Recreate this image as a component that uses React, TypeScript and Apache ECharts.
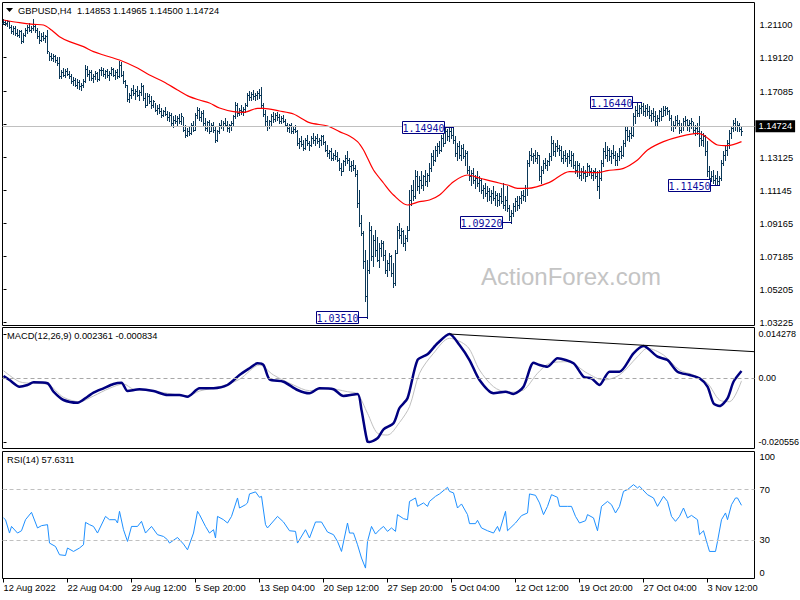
import React, { useEffect, useRef } from 'react';
import * as echarts from 'echarts';

// ---------- data ----------
const symbolName = 'GBPUSD,H4';
const firstOpen = 1.212;

const highs = [
  1.2144,1.2140,1.2136,1.2132,1.2110,1.2100,1.2105,1.2085,1.2080,1.2078,
  1.2060,1.2090,1.2110,1.2120,1.2100,1.2144,1.2108,1.2090,1.2070,1.2060,
  1.2066,1.2050,1.2078,1.1946,1.1940,1.1935,1.1930,1.1915,1.1916,1.1840,
  1.1850,1.1845,1.1850,1.1830,1.1815,1.1796,1.1790,1.1785,1.1780,1.1760,
  1.1785,1.1868,1.1860,1.1838,1.1835,1.1815,1.1830,1.1825,1.1845,1.1856,
  1.1850,1.1840,1.1845,1.1830,1.1855,1.1850,1.1835,1.1845,1.1892,1.1886,
  1.1830,1.1780,1.1750,1.1700,1.1730,1.1748,1.1725,1.1740,1.1720,1.1760,
  1.1750,1.1700,1.1700,1.1695,1.1680,1.1660,1.1640,1.1625,1.1635,1.1610,
  1.1600,1.1615,1.1590,1.1586,1.1580,1.1560,1.1570,1.1560,1.1575,1.1580,
  1.1556,1.1510,1.1490,1.1500,1.1520,1.1530,1.1580,1.1616,1.1610,1.1590,
  1.1600,1.1550,1.1535,1.1540,1.1520,1.1526,1.1500,1.1480,1.1520,1.1540,
  1.1530,1.1550,1.1530,1.1515,1.1530,1.1570,1.1646,1.1640,1.1610,1.1625,
  1.1615,1.1640,1.1700,1.1710,1.1705,1.1718,1.1700,1.1712,1.1725,1.1736,
  1.1640,1.1600,1.1560,1.1540,1.1575,1.1586,1.1580,1.1586,1.1575,1.1560,
  1.1570,1.1545,1.1520,1.1515,1.1520,1.1500,1.1510,1.1480,1.1430,1.1440,
  1.1420,1.1430,1.1445,1.1415,1.1440,1.1460,1.1440,1.1455,1.1430,1.1450,
  1.1445,1.1410,1.1385,1.1360,1.1370,1.1340,1.1358,1.1345,1.1310,1.1280,
  1.1300,1.1330,1.1350,1.1310,1.1290,1.1298,1.1270,1.1238,1.1118,1.0970,
  1.0870,1.0760,1.0700,1.0926,1.0900,1.0850,1.0880,1.0836,1.0800,1.0820,
  1.0810,1.0760,1.0700,1.0740,1.0730,1.0680,1.0758,1.0900,1.0920,1.0890,
  1.0880,1.0850,1.0900,1.1118,1.1150,1.1180,1.1238,1.1230,1.1200,1.1230,
  1.1210,1.1240,1.1220,1.1280,1.1340,1.1360,1.1380,1.1400,1.1410,1.1450,
  1.1470,1.1490,1.1485,1.1490,1.1488,1.1494,1.1440,1.1400,1.1410,1.1390,
  1.1395,1.1360,1.1350,1.1260,1.1240,1.1250,1.1210,1.1230,1.1200,1.1190,
  1.1150,1.1160,1.1140,1.1130,1.1120,1.1140,1.1110,1.1100,1.1100,1.1130,
  1.1160,1.1080,1.1140,1.1030,1.1000,1.1040,1.1070,1.1080,1.1080,1.1110,
  1.1120,1.1150,1.1300,1.1350,1.1370,1.1340,1.1360,1.1345,1.1330,1.1260,
  1.1300,1.1310,1.1300,1.1340,1.1440,1.1420,1.1400,1.1420,1.1390,1.1380,
  1.1350,1.1360,1.1340,1.1358,1.1350,1.1340,1.1290,1.1290,1.1280,1.1250,
  1.1260,1.1240,1.1280,1.1270,1.1250,1.1240,1.1250,1.1230,1.1238,1.1300,
  1.1370,1.1406,1.1380,1.1370,1.1360,1.1388,1.1350,1.1340,1.1370,1.1380,
  1.1420,1.1496,1.1500,1.1480,1.1500,1.1580,1.1620,1.1640,1.1630,1.1644,
  1.1640,1.1630,1.1636,1.1620,1.1600,1.1610,1.1590,1.1570,1.1600,1.1610,
  1.1620,1.1622,1.1615,1.1600,1.1570,1.1530,1.1560,1.1568,1.1540,1.1520,
  1.1550,1.1560,1.1545,1.1540,1.1550,1.1526,1.1510,1.1520,1.1560,1.1470,
  1.1460,1.1450,1.1410,1.1260,1.1230,1.1238,1.1210,1.1230,1.1200,1.1300,
  1.1350,1.1380,1.1420,1.1478,1.1500,1.1540,1.1550,1.1530,1.1520,1.14965,
];

const lows = [
  1.2114,1.2110,1.2102,1.2090,1.2060,1.2055,1.2050,1.2040,1.2035,1.2000,
  1.2005,1.2040,1.2060,1.2070,1.2066,1.2075,1.2066,1.2030,1.2000,1.2010,
  1.2020,1.2006,1.1940,1.1900,1.1895,1.1890,1.1886,1.1870,1.1790,1.1790,
  1.1800,1.1795,1.1805,1.1790,1.1760,1.1745,1.1740,1.1730,1.1725,1.1718,
  1.1735,1.1765,1.1800,1.1780,1.1775,1.1766,1.1785,1.1770,1.1780,1.1810,
  1.1800,1.1790,1.1795,1.1778,1.1805,1.1800,1.1785,1.1790,1.1795,1.1800,
  1.1760,1.1736,1.1650,1.1646,1.1670,1.1690,1.1665,1.1680,1.1658,1.1690,
  1.1660,1.1616,1.1625,1.1640,1.1610,1.1615,1.1590,1.1575,1.1580,1.1556,
  1.1560,1.1565,1.1540,1.1530,1.1510,1.1496,1.1520,1.1505,1.1520,1.1515,
  1.1470,1.1436,1.1440,1.1450,1.1455,1.1470,1.1480,1.1550,1.1540,1.1530,
  1.1508,1.1480,1.1470,1.1460,1.1470,1.1465,1.1406,1.1410,1.1460,1.1490,
  1.1480,1.1500,1.1470,1.1466,1.1480,1.1510,1.1550,1.1560,1.1568,1.1575,
  1.1570,1.1585,1.1620,1.1660,1.1658,1.1665,1.1660,1.1665,1.1670,1.1610,
  1.1560,1.1510,1.1478,1.1490,1.1510,1.1525,1.1530,1.1540,1.1520,1.1520,
  1.1525,1.1500,1.1470,1.1465,1.1460,1.1460,1.1465,1.1390,1.1370,1.1380,
  1.1358,1.1365,1.1390,1.1360,1.1380,1.1400,1.1385,1.1400,1.1376,1.1390,
  1.1395,1.1350,1.1320,1.1310,1.1298,1.1300,1.1305,1.1290,1.1240,1.1208,
  1.1230,1.1270,1.1280,1.1240,1.1230,1.1240,1.1200,1.1016,1.0900,1.0848,
  1.0650,1.0450,1.0351,1.0620,1.0700,1.0660,1.0720,1.0690,1.0656,1.0720,
  1.0700,1.0620,1.0600,1.0640,1.0600,1.0536,1.0550,1.0740,1.0830,1.0800,
  1.0780,1.0758,1.0810,1.0878,1.1030,1.1060,1.1070,1.1120,1.1100,1.1130,
  1.1120,1.1150,1.1140,1.1170,1.1230,1.1270,1.1290,1.1320,1.1340,1.1350,
  1.1380,1.1400,1.1420,1.1410,1.1430,1.1400,1.1320,1.1300,1.1310,1.1300,
  1.1310,1.1270,1.1220,1.1180,1.1150,1.1160,1.1130,1.1140,1.1110,1.1100,
  1.1070,1.1080,1.1050,1.1060,1.1040,1.1060,1.1030,1.1020,1.1030,1.1040,
  1.1010,1.1000,1.0990,1.0940,1.0922,1.0960,1.0990,1.1000,1.1010,1.1040,
  1.1060,1.1050,1.1090,1.1260,1.1300,1.1280,1.1290,1.1280,1.1180,1.1160,
  1.1220,1.1250,1.1240,1.1270,1.1300,1.1330,1.1320,1.1350,1.1330,1.1290,
  1.1280,1.1290,1.1260,1.1280,1.1260,1.1250,1.1220,1.1200,1.1190,1.1180,
  1.1190,1.1170,1.1200,1.1210,1.1190,1.1180,1.1190,1.1120,1.1070,1.1180,
  1.1260,1.1310,1.1290,1.1300,1.1280,1.1310,1.1270,1.1268,1.1300,1.1310,
  1.1320,1.1380,1.1420,1.1410,1.1430,1.1440,1.1520,1.1560,1.1560,1.1580,
  1.1570,1.1560,1.1570,1.1550,1.1530,1.1540,1.1510,1.1500,1.1530,1.1540,
  1.1560,1.1570,1.1575,1.1540,1.1480,1.1470,1.1490,1.1500,1.1460,1.1465,
  1.1480,1.1500,1.1480,1.1470,1.1490,1.1460,1.1450,1.1455,1.1380,1.1390,
  1.1380,1.1330,1.1200,1.1160,1.1170,1.1160,1.1150,1.1150,1.1145,1.1180,
  1.1270,1.1300,1.1330,1.1370,1.1430,1.1470,1.1480,1.1470,1.1470,1.14500,
];

const closes = [
  1.2125,1.2118,1.2130,1.2095,1.2070,1.2088,1.2060,1.2050,1.2070,1.2010,
  1.2050,1.2080,1.2095,1.2080,1.2090,1.2100,1.2080,1.2040,1.2020,1.2045,
  1.2030,1.2040,1.1950,1.1920,1.1910,1.1925,1.1895,1.1880,1.1800,1.1825,
  1.1810,1.1830,1.1815,1.1800,1.1770,1.1780,1.1750,1.1765,1.1740,1.1750,
  1.1770,1.1845,1.1815,1.1825,1.1790,1.1800,1.1820,1.1785,1.1835,1.1840,
  1.1815,1.1830,1.1805,1.1820,1.1845,1.1810,1.1825,1.1800,1.1870,1.1810,
  1.1770,1.1745,1.1665,1.1690,1.1720,1.1700,1.1715,1.1690,1.1705,1.1740,
  1.1670,1.1630,1.1680,1.1655,1.1625,1.1650,1.1600,1.1610,1.1590,1.1570,
  1.1590,1.1575,1.1555,1.1570,1.1520,1.1540,1.1530,1.1550,1.1535,1.1560,
  1.1480,1.1450,1.1470,1.1460,1.1510,1.1480,1.1570,1.1600,1.1555,1.1580,
  1.1520,1.1490,1.1525,1.1475,1.1510,1.1480,1.1420,1.1470,1.1510,1.1500,
  1.1520,1.1510,1.1490,1.1505,1.1520,1.1560,1.1630,1.1580,1.1600,1.1590,
  1.1605,1.1625,1.1690,1.1675,1.1695,1.1680,1.1690,1.1700,1.1690,1.1625,
  1.1575,1.1530,1.1500,1.1530,1.1560,1.1545,1.1570,1.1555,1.1535,1.1550,
  1.1530,1.1510,1.1490,1.1505,1.1475,1.1485,1.1475,1.1400,1.1410,1.1395,
  1.1370,1.1420,1.1400,1.1390,1.1430,1.1420,1.1430,1.1410,1.1420,1.1440,
  1.1405,1.1360,1.1340,1.1350,1.1310,1.1330,1.1320,1.1300,1.1250,1.1230,
  1.1290,1.1310,1.1300,1.1260,1.1270,1.1250,1.1215,1.1040,1.0920,1.0860,
  1.0690,1.0480,1.0640,1.0880,1.0720,1.0820,1.0760,1.0700,1.0770,1.0800,
  1.0730,1.0640,1.0680,1.0720,1.0620,1.0560,1.0740,1.0880,1.0850,1.0870,
  1.0800,1.0830,1.0880,1.1060,1.1120,1.1080,1.1200,1.1140,1.1180,1.1150,
  1.1200,1.1170,1.1210,1.1250,1.1320,1.1300,1.1360,1.1380,1.1360,1.1430,
  1.1400,1.1470,1.1440,1.1470,1.1450,1.1420,1.1340,1.1380,1.1330,1.1370,
  1.1320,1.1340,1.1240,1.1200,1.1220,1.1180,1.1190,1.1160,1.1180,1.1120,
  1.1130,1.1100,1.1110,1.1080,1.1100,1.1070,1.1090,1.1060,1.1080,1.1050,
  1.1030,1.1060,1.1010,1.0960,1.0980,1.1020,1.1050,1.1030,1.1070,1.1090,
  1.1080,1.1130,1.1280,1.1330,1.1320,1.1330,1.1310,1.1330,1.1200,1.1240,
  1.1280,1.1270,1.1290,1.1320,1.1400,1.1350,1.1380,1.1370,1.1360,1.1310,
  1.1330,1.1310,1.1320,1.1300,1.1330,1.1270,1.1240,1.1270,1.1210,1.1230,
  1.1220,1.1200,1.1260,1.1230,1.1210,1.1230,1.1200,1.1140,1.1190,1.1280,
  1.1350,1.1330,1.1360,1.1320,1.1340,1.1330,1.1300,1.1320,1.1350,1.1330,
  1.1400,1.1480,1.1440,1.1460,1.1450,1.1560,1.1600,1.1580,1.1610,1.1620,
  1.1590,1.1610,1.1590,1.1570,1.1580,1.1560,1.1530,1.1550,1.1590,1.1560,
  1.1600,1.1610,1.1590,1.1550,1.1500,1.1510,1.1540,1.1520,1.1480,1.1500,
  1.1530,1.1540,1.1510,1.1520,1.1530,1.1480,1.1490,1.1470,1.1430,1.1420,
  1.1440,1.1350,1.1230,1.1190,1.1200,1.1180,1.1190,1.1170,1.1190,1.1280,
  1.1330,1.1360,1.1400,1.1460,1.1490,1.1520,1.1500,1.1510,1.14853,1.14724,
];

// moving average (red), [bar index, price]
const maPts = [
  [0,1.2138],[8,1.2122],[15,1.2112],[20,1.2108],[24,1.2078],[28,1.2038],[33,1.2008],[40,1.1978],
  [45,1.1948],[50,1.1928],[58,1.1898],[67,1.1850],[73,1.1808],[80,1.1768],[87,1.1718],[93,1.1678],
  [98,1.1658],[103,1.1640],[108,1.1610],[115,1.1588],[120,1.1584],[127,1.1608],[130,1.1608],
  [138,1.1592],[145,1.1574],[153,1.1522],[162,1.1502],[168,1.1468],[173,1.1442],[177,1.1408],
  [180,1.1358],[182,1.1310],[185,1.1238],[190,1.1160],[195,1.1088],[202,1.1028],[208,1.1048],
  [213,1.1058],[218,1.1088],[225,1.1168],[232,1.1208],[238,1.1190],[245,1.1168],[252,1.1148],
  [257,1.1128],[262,1.1128],[273,1.1164],[283,1.1228],[297,1.1222],[302,1.1234],[310,1.1248],
  [317,1.1298],[322,1.1358],[330,1.1408],[338,1.1438],[347,1.1458],[350,1.1448],[357,1.1388],
  [362,1.1384],[369,1.1408],
];

// MACD main line (navy), [bar index, value]
const macdPts = [
  [0,0.00074],[3,-0.00055],[8,-0.00271],[12,-0.00216],[15,-0.00129],[22,-0.00161],[25,-0.00432],
  [30,-0.007],[37,-0.00787],[42,-0.00593],[45,-0.00464],[50,-0.00323],[55,-0.00184],[59,-0.00142],
  [62,-0.0041],[68,-0.00355],[75,-0.0041],[82,-0.00539],[88,-0.00539],[92,-0.00593],[98,-0.00323],
  [105,-0.00323],[112,-0.00216],[118,0.00106],[123,0.00323],[127,0.00484],[130,0.00429],
  [133,-0.00032],[140,-0.0011],[147,-0.00377],[153,-0.00484],[158,-0.00323],[165,-0.00355],
  [170,-0.00571],[177,-0.00506],[179,-0.01022],[182,-0.02045],[183,-0.020556],[187,-0.01935],
  [190,-0.01645],[195,-0.01451],[198,-0.00958],[202,-0.00645],[207,0.0059],[212,0.00774],
  [217,0.01129],[223,0.014278],[228,0.01074],[233,0.0059],[238,-0.00055],[245,-0.00484],
  [251,-0.00432],[255,-0.00506],[260,-0.00271],[265,0.00503],[268,0.00429],[272,0.00374],
  [277,0.00645],[285,0.00484],[290,0.00052],[294,0],[298,-0.00216],[303,0.00213],[308,0.00213],
  [315,0.00806],[320,0.01042],[327,0.00697],[332,0.0059],[337,0.00213],[343,0.00106],[348,0],
  [352,-0.00271],[355,-0.00806],[358,-0.00893],[362,-0.00645],[365,-0.0011],[369,0.002361],
];

// MACD signal line (silver)
const signalPts = [
  [0,0.00245],[8,-0.0011],[15,-0.00161],[22,-0.00194],[30,-0.00613],[38,-0.00755],[45,-0.00571],
  [53,-0.00323],[60,-0.00184],[65,-0.00355],[73,-0.004],[82,-0.00484],[92,-0.00571],[98,-0.0041],
  [108,-0.00271],[118,-0.00032],[128,0.00429],[135,0.00106],[145,-0.00216],[153,-0.004],
  [162,-0.00323],[172,-0.00432],[177,-0.00506],[182,-0.01129],[187,-0.01774],[192,-0.01829],
  [198,-0.01425],[203,-0.00916],[208,0.00161],[215,0.00806],[223,0.0129],[232,0.01019],
  [238,0.00268],[245,-0.00271],[252,-0.00452],[260,-0.00377],[267,0.00161],[273,0.00484],
  [282,0.00535],[292,0.00161],[300,-0.00055],[308,0.00106],[317,0.00697],[322,0.00968],
  [330,0.00751],[338,0.00268],[345,0.00106],[352,-0.00161],[358,-0.007],[363,-0.00755],
  [369,-0.000834],
];

const trendFrom = [223, 0.014278];
const trendTo = [375.5, 0.00858];

// RSI(14), [bar index, value]
const rsiPts = [
  [0,47.7],[1,46.3],[3,35.8],[4,41.0],[7,35.8],[9,37.6],[11,46.3],[14,52.1],[17,39.8],[19,41.6],
  [22,42.4],[23,27.9],[26,25.2],[28,18.7],[31,18.1],[32,24.0],[35,21.3],[38,24.0],[40,26.6],
  [41,44.2],[43,42.4],[45,41.0],[47,35.8],[51,48.9],[53,46.3],[56,46.3],[57,43.7],[58,52.9],
  [60,38.4],[62,29.2],[64,41.0],[67,41.0],[69,45.0],[71,35.8],[74,41.0],[77,34.5],[80,33.1],
  [82,30.5],[83,27.9],[87,32.3],[90,27.1],[92,22.6],[95,35.8],[97,52.9],[98,50.3],[101,41.0],
  [103,35.8],[105,38.4],[106,31.9],[107,48.9],[110,46.3],[112,43.7],[114,48.9],[117,63.4],
  [118,55.5],[121,58.1],[122,59.5],[123,66.6],[126,68.2],[128,63.9],[129,64.7],[131,42.4],
  [132,39.8],[137,48.9],[140,44.5],[143,37.6],[146,37.1],[147,27.9],[151,38.4],[153,31.9],
  [156,44.5],[159,44.5],[162,36.6],[165,34.5],[167,29.2],[169,21.3],[172,43.7],[173,35.8],
  [175,35.8],[177,26.6],[179,16.1],[181,8.2],[182,29.2],[184,41.0],[186,35.0],[188,38.4],
  [190,41.0],[192,37.1],[194,39.8],[196,37.1],[197,50.3],[200,47.1],[202,46.3],[203,60.7],
  [206,63.4],[207,56.8],[210,59.5],[212,56.8],[213,60.7],[216,64.7],[218,66.6],[222,71.8],
  [223,68.6],[225,67.4],[227,55.5],[229,58.7],[232,50.3],[233,43.2],[236,43.2],[237,45.8],
  [239,39.8],[242,37.6],[245,35.8],[247,41.0],[248,37.1],[251,52.9],[252,37.6],[256,43.7],
  [259,49.5],[262,51.6],[263,66.6],[266,65.5],[268,59.5],[270,50.3],[272,56.8],[274,66.0],
  [277,63.9],[278,56.8],[282,56.8],[284,56.8],[286,48.9],[288,43.7],[291,45.5],[292,50.3],
  [295,47.7],[297,37.6],[299,56.8],[302,60.7],[304,58.1],[306,51.6],[308,56.8],[310,68.6],
  [312,70.0],[315,73.9],[317,71.3],[318,72.6],[322,66.0],[325,63.4],[327,56.8],[330,64.7],
  [332,60.7],[334,48.9],[336,45.0],[338,48.9],[340,55.5],[342,47.7],[344,49.7],[347,46.3],
  [348,34.5],[350,37.6],[352,26.6],[353,21.3],[356,21.3],[357,29.2],[359,46.3],[361,51.6],
  [362,46.3],[364,58.1],[366,63.4],[367,63.4],[369,57.6311],
];

const priceTicks = [1.211, 1.1912, 1.17085, 1.15105, 1.13125, 1.11145, 1.09165, 1.07185, 1.05205, 1.03225];
const macdTicks = [0.014278, 0, -0.020556];
const rsiTicks = [100, 70, 30, 0];
const rsiLevels = [70, 30];
const timeIdx = [0, 32, 64, 96, 128, 160, 192, 224, 256, 288, 320, 352];
const timeLabels = [
  '12 Aug 2022', '22 Aug 04:00', '29 Aug 12:00', '5 Sep 20:00', '13 Sep 04:00', '20 Sep 12:00',
  '27 Sep 20:00', '5 Oct 04:00', '12 Oct 12:00', '19 Oct 20:00', '27 Oct 04:00', '3 Nov 12:00',
];
const annIdx = [182, 225, 254, 319, 358];
const annPrice = [1.0351, 1.1494, 1.0922, 1.1644, 1.1145];
const slotCount = 376;

// ---------- styling ----------
const FONT = '"Liberation Sans", Arial, sans-serif';
const FS = 9.3;
const BAR_COLOR = '#0b3858';

const App: React.FC = () => {
  const ref = useRef<HTMLDivElement>(null);

  useEffect(() => {
    if (!ref.current) return;
    const chart = echarts.init(ref.current, null, { renderer: 'svg' });
    const n = closes.length;
    const barData = closes.map((c, i) => [i, i === 0 ? firstOpen : closes[i - 1], highs[i], lows[i], c]);
    const lastOpen = closes[n - 2];
    const lastClose = closes[n - 1];
    const macdLast = macdPts[macdPts.length - 1][1];
    const sigLast = signalPts[signalPts.length - 1][1];
    const rsiLast = rsiPts[rsiPts.length - 1][1];

    const gridBase = {
      show: true, borderColor: '#000', borderWidth: 1, backgroundColor: '#fff',
      containLabel: false, outerBoundsMode: 'none',
      left: 2.5, width: 752,
    };
    const labelStyle = { color: '#000', fontSize: FS, fontFamily: FONT };

    const hiddenX = (gi: number) => ({
      type: 'value', gridIndex: gi, min: -0.5, max: slotCount - 0.5,
      axisLine: { show: false }, axisTick: { show: false }, axisLabel: { show: false }, splitLine: { show: false },
    });

    const option: any = {
      animation: false,
      backgroundColor: '#fff',
      grid: [
        { ...gridBase, top: 2.5, height: 323 },
        { ...gridBase, top: 327.5, height: 121 },
        { ...gridBase, top: 451.5, height: 127 },
      ],
      xAxis: [
        hiddenX(0),
        hiddenX(1),
        {
          type: 'value', gridIndex: 2, min: -0.5, max: slotCount - 0.5,
          axisLine: { show: false },
          splitLine: { show: false },
          axisTick: { show: true, customValues: timeIdx, length: 4, lineStyle: { color: '#000' } },
          axisLabel: {
            show: true, customValues: timeIdx, align: 'left', margin: 5, ...labelStyle,
            formatter: (v: number) => {
              const k = timeIdx.indexOf(Math.round(v));
              return k >= 0 ? timeLabels[k] : '';
            },
          },
        },
      ],
      yAxis: [
        {
          type: 'value', gridIndex: 0, position: 'right', min: 1.0305, max: 1.2243,
          axisLine: { show: false }, splitLine: { show: false },
          axisTick: { show: true, customValues: priceTicks, length: 3, lineStyle: { color: '#000' } },
          axisLabel: { customValues: priceTicks, margin: 5, ...labelStyle, formatter: (v: number) => v.toFixed(5) },
        },
        {
          type: 'value', gridIndex: 1, position: 'right', min: -0.02264, max: 0.016383,
          axisLine: { show: false }, splitLine: { show: false },
          axisTick: { show: true, customValues: macdTicks, length: 3, lineStyle: { color: '#000' } },
          axisLabel: {
            customValues: macdTicks, margin: 4, ...labelStyle, fontSize: 9,
            formatter: (v: number) => (v === 0 ? '0.00' : v.toFixed(6)),
          },
        },
        {
          type: 'value', gridIndex: 2, position: 'right', min: 0, max: 100,
          axisLine: { show: false }, splitLine: { show: false },
          axisTick: { show: true, customValues: rsiTicks, length: 3, lineStyle: { color: '#000' } },
          axisLabel: {
            customValues: rsiTicks, margin: 5, ...labelStyle,
            formatter: (v: number) => (v === 100 ? `{top|${v}}` : v === 0 ? `{bot|${v}}` : String(v)),
            rich: {
              top: { padding: [11, 0, 0, 0], fontSize: FS, fontFamily: FONT, color: '#000' },
              bot: { padding: [0, 0, 11, 0], fontSize: FS, fontFamily: FONT, color: '#000' },
            },
          },
        },
      ],
      graphic: [
        { type: 'text', z: 1, x: 481, y: 276, silent: true,
          style: { text: 'ActionForex.com', fill: '#c4c4c4', fontSize: 24, fontFamily: FONT, verticalAlign: 'middle' } },
        { type: 'polygon', z: 20, silent: true, shape: { points: [[6, 8], [13, 8], [9.5, 12]] }, style: { fill: '#000' } },
        { type: 'text', z: 20, x: 18, y: 10.5, silent: true,
          style: {
            text: `${symbolName}  ${lastOpen.toFixed(5)} ${highs[n - 1].toFixed(5)} ${lows[n - 1].toFixed(5)} ${lastClose.toFixed(5)}`,
            fill: '#000', fontSize: FS, fontFamily: FONT, verticalAlign: 'middle',
          } },
        { type: 'text', z: 20, x: 7, y: 336, silent: true,
          style: { text: `MACD(12,26,9) ${macdLast.toFixed(6)} ${sigLast.toFixed(6)}`, fill: '#000', fontSize: FS, fontFamily: FONT, verticalAlign: 'middle' } },
        { type: 'text', z: 20, x: 7, y: 460, silent: true,
          style: { text: `RSI(14) ${rsiLast.toFixed(4)}`, fill: '#000', fontSize: FS, fontFamily: FONT, verticalAlign: 'middle' } },
      ],
      series: [
        // current price line
        {
          type: 'line', xAxisIndex: 0, yAxisIndex: 0, data: [[0, lastClose]], symbol: 'none',
          lineStyle: { opacity: 0 }, z: 1, silent: true,
          markLine: {
            silent: true, symbol: ['none', 'none'], animation: false,
            lineStyle: { color: '#c0c0c0', type: 'solid', width: 1 },
            label: {
              show: true, position: 'end', distance: 1, formatter: lastClose.toFixed(5),
              backgroundColor: '#000', color: '#fff', padding: [2, 3, 1, 3], fontSize: FS, fontFamily: FONT,
            },
            data: [{ yAxis: lastClose }],
          },
        },
        // OHLC bars
        {
          type: 'custom', xAxisIndex: 0, yAxisIndex: 0, data: barData, z: 3, silent: true, clip: true,
          encode: { x: 0, y: [1, 2, 3, 4] },
          renderItem: (_p: any, api: any) => {
            const i = api.value(0);
            const o = api.coord([i, api.value(1)]);
            const h = api.coord([i, api.value(2)]);
            const l = api.coord([i, api.value(3)]);
            const c = api.coord([i, api.value(4)]);
            const x = Math.round(h[0] - 0.5) + 0.5;
            const yh = Math.round(h[1]);
            const yl = Math.round(l[1]) + 1;
            const yo = Math.round(o[1]) + 0.5;
            const yc = Math.round(c[1]) + 0.5;
            const st = { stroke: BAR_COLOR, lineWidth: 1 };
            return {
              type: 'group',
              children: [
                { type: 'line', shape: { x1: x, y1: yh, x2: x, y2: yl }, style: st },
                { type: 'line', shape: { x1: x - 1.5, y1: yo, x2: x - 0.5, y2: yo }, style: st },
                { type: 'line', shape: { x1: x + 0.5, y1: yc, x2: x + 1.5, y2: yc }, style: st },
              ],
            };
          },
        },
        // moving average
        {
          type: 'line', xAxisIndex: 0, yAxisIndex: 0, data: maPts, symbol: 'none', smooth: 0.3,
          lineStyle: { color: '#ff0000', width: 1.2 }, z: 4, silent: true,
        },
        // swing annotations
        {
          type: 'custom', xAxisIndex: 0, yAxisIndex: 0, z: 6, silent: true, clip: false,
          data: annIdx.map((i, k) => [i, annPrice[k]]),
          encode: { x: 0, y: 1 },
          renderItem: (_p: any, api: any) => {
            const pt = api.coord([api.value(0), api.value(1)]);
            const bx = Math.floor(pt[0]);
            const y = Math.floor(pt[1]) + 0.5;
            const right = bx - 9 + 0.5;
            const left = right - 42;
            return {
              type: 'group',
              children: [
                { type: 'line', shape: { x1: right, y1: y, x2: bx + 1, y2: y }, style: { stroke: '#000080', lineWidth: 1 } },
                { type: 'rect', shape: { x: left, y: y - 6, width: 42, height: 12 }, style: { fill: '#fff', stroke: '#000080', lineWidth: 1 } },
                {
                  type: 'text', x: left + 21, y: y + 0.5,
                  style: {
                    text: Number(api.value(1)).toFixed(5), fill: '#1010a0',
                    fontSize: 10, fontFamily: '"DejaVu Sans Mono", monospace', align: 'center', verticalAlign: 'middle',
                  },
                },
              ],
            };
          },
        },
        // MACD signal
        {
          type: 'line', xAxisIndex: 1, yAxisIndex: 1, data: signalPts, symbol: 'none', smooth: 0.3,
          lineStyle: { color: '#c0c0c0', width: 1 }, z: 2, silent: true,
          markLine: {
            silent: true, symbol: ['none', 'none'], animation: false, label: { show: false },
            lineStyle: { color: '#a8a8a8', type: [4, 3], width: 1 },
            data: [{ yAxis: 0 }],
          },
        },
        // MACD main
        {
          type: 'line', xAxisIndex: 1, yAxisIndex: 1, data: macdPts, symbol: 'none', smooth: 0.25,
          lineStyle: { color: '#000080', width: 2.5 }, z: 3, silent: true,
          markLine: {
            silent: true, symbol: ['none', 'none'], animation: false, label: { show: false },
            lineStyle: { color: '#000', type: 'solid', width: 1 },
            data: [[{ coord: trendFrom }, { coord: trendTo }]],
          },
        },
        // RSI
        {
          type: 'line', xAxisIndex: 2, yAxisIndex: 2, data: rsiPts, symbol: 'none',
          lineStyle: { color: '#1e90ff', width: 1 }, z: 3, silent: true,
          markLine: {
            silent: true, symbol: ['none', 'none'], animation: false, label: { show: false },
            lineStyle: { color: '#c0c0c0', type: [4, 3], width: 1 },
            data: rsiLevels.map((v) => ({ yAxis: v })),
          },
        },
      ],
    };

    chart.setOption(option);
    return () => chart.dispose();
  }, []);

  return (
    <div
      ref={ref}
      style={{ position: 'fixed', left: 0, top: 0, width: 800, height: 600, background: '#fff' }}
    />
  );
};

export default App;
